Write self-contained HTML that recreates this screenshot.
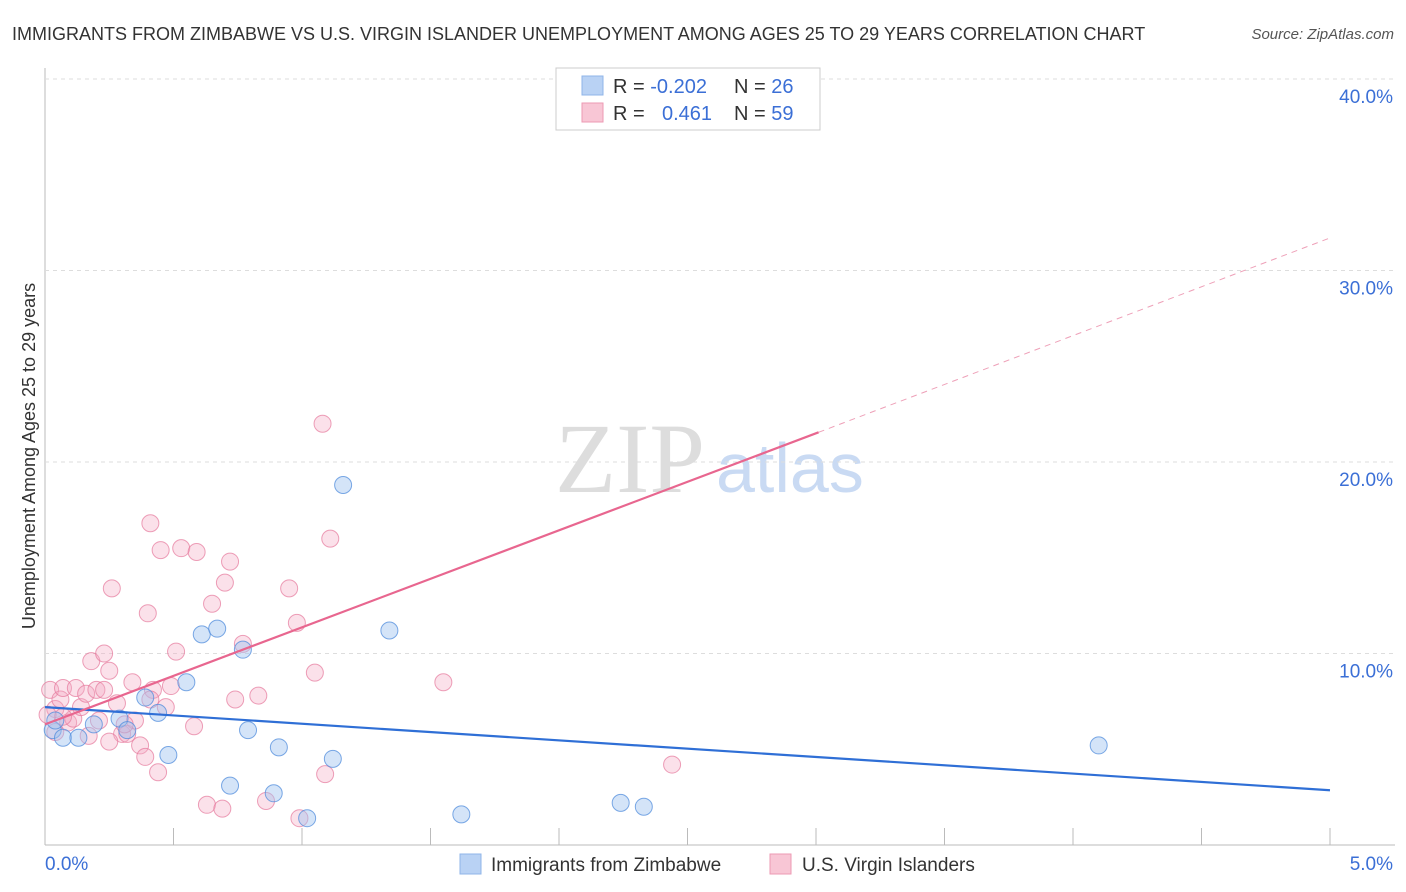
<!DOCTYPE html>
<html><head><meta charset="utf-8"><style>
body{margin:0;background:#fff;font-family:"Liberation Sans",sans-serif;}
svg{display:block}
</style></head><body>
<svg id="c" width="1406" height="892">
<text x="12" y="40" font-size="18" fill="#333">IMMIGRANTS FROM ZIMBABWE VS U.S. VIRGIN ISLANDER UNEMPLOYMENT AMONG AGES 25 TO 29 YEARS CORRELATION CHART</text>
<text x="1394" y="39" font-size="15" fill="#555" font-style="italic" text-anchor="end">Source: ZipAtlas.com</text>
<text x="35" y="456" font-size="18" fill="#333" text-anchor="middle" transform="rotate(-90 35 456)">Unemployment Among Ages 25 to 29 years</text>
<text x="555" y="492" font-size="100" fill="#ddd" font-family="Liberation Serif,serif">ZIP</text>
<text x="716" y="492" font-size="70" fill="#c9daf3">atlas</text>
<g id="grid"></g><g id="pts"></g><g id="lines"></g>
<g>
<rect x="556" y="68" width="264" height="62" fill="#fff" stroke="#ccc"/>
<rect x="582" y="76" width="21" height="19" fill="#b9d2f4" stroke="#8fb4e8"/>
<rect x="582" y="103" width="21" height="19" fill="#f8c6d5" stroke="#ec9ab3"/>
<text x="613" y="93" font-size="20" fill="#333">R = <tspan fill="#3b6fd6">-0.202</tspan></text>
<text x="734" y="93" font-size="20" fill="#333">N = <tspan fill="#3b6fd6">26</tspan></text>
<text x="613" y="120" font-size="20" fill="#333">R = <tspan fill="#3b6fd6" x="662">0.461</tspan></text>
<text x="734" y="120" font-size="20" fill="#333">N = <tspan fill="#3b6fd6">59</tspan></text>
</g>
<g>
<rect x="460" y="854" width="21" height="20" fill="#b9d2f4" stroke="#8fb4e8"/>
<text x="491" y="871" font-size="19" fill="#333">Immigrants from Zimbabwe</text>
<rect x="770" y="854" width="21" height="20" fill="#f8c6d5" stroke="#ec9ab3"/>
<text x="802" y="871" font-size="19" fill="#333">U.S. Virgin Islanders</text>
</g>
</svg>
<script>
const xTicks=[0,0.5,1,1.5,2,2.5,3,3.5,4,4.5,5];
const yTicks=[10,20,30,40];
const blueX=[0.03,0.07,0.13,0.19,0.29,0.32,0.39,0.44,0.48,0.55,0.61,0.67,0.72,0.77,0.79,0.89,0.91,1.02,1.12,1.16,1.34,1.62,2.24,2.33,4.10,0.04];
const blueY=[6.0,5.6,5.6,6.3,6.6,6.0,7.7,6.9,4.7,8.5,11.0,11.3,3.1,10.2,6.0,2.7,5.1,1.4,4.5,18.8,11.2,1.6,2.2,2.0,5.2,6.5];
const pinkX=[0.02,0.04,0.06,0.07,0.09,0.11,0.12,0.14,0.16,0.18,0.20,0.21,0.23,0.23,0.25,0.26,0.28,0.30,0.32,0.34,0.35,0.37,0.39,0.40,0.41,0.42,0.44,0.45,0.47,0.49,0.51,0.53,0.58,0.59,0.63,0.65,0.69,0.70,0.72,0.74,0.77,0.83,0.86,0.95,0.98,0.99,1.05,1.08,1.09,1.11,1.55,2.44,0.04,0.07,0.01,0.17,0.31,0.41,0.25,2.86];
const pinkY=[8.1,7.1,7.6,8.2,6.4,6.6,8.2,7.2,7.9,9.6,8.1,6.5,10.0,8.1,9.1,13.4,7.4,5.8,5.8,8.5,6.5,5.2,4.6,12.1,16.8,8.1,3.8,15.4,7.2,8.3,10.1,15.5,6.2,15.3,2.1,12.6,1.9,13.7,14.8,7.6,10.5,7.8,2.3,13.4,11.6,1.4,9.0,22.0,3.7,16.0,8.5,4.2,5.9,6.7,6.8,5.7,6.3,7.6,5.4,40.0];
const X=v=>45+v/5*1285, Y=v=>845-v*19.15;
const ns="http://www.w3.org/2000/svg";
function mk(t,a,p){const e=document.createElementNS(ns,t);for(const k in a)e.setAttribute(k,a[k]);p.appendChild(e);return e;}
const g=document.getElementById('grid');
let ax=mk('line',{x1:45,y1:68,x2:45,y2:845,stroke:'#bbb'},g);


let bx=mk('line',{x1:45,y1:845,x2:1395,y2:845,stroke:'#bbb'},g);


yTicks.forEach(v=>{
 let l=mk('line',{x1:45,y1:Y(v),x2:1395,y2:Y(v),stroke:'#ddd','stroke-dasharray':'4,4'},g);
 
 
 let t=mk('text',{x:1393,y:Y(v)+24,'font-size':19,fill:'#3b6fd6','text-anchor':'end'},g);t.textContent=v.toFixed(1)+'%';
 
 
});
xTicks.forEach(v=>{
 let l=mk('line',{x1:X(v),y1:828,x2:X(v),y2:845,stroke:'#bbb'},g);
 
 
});
[[0,'0.0%','start',45],[5,'5.0%','end',1393]].forEach(([v,s,a,px])=>{
 let t=mk('text',{x:px,y:870,'font-size':19,fill:'#3b6fd6','text-anchor':a},g);t.textContent=s;
 
 
});
const pg=document.getElementById('pts');
pinkX.forEach((v,i)=>{let c=mk('circle',{cx:X(v),cy:Y(pinkY[i]),r:8.5,fill:'rgba(244,170,195,0.35)',stroke:'rgba(230,120,155,0.7)','stroke-width':1},pg);
 
 });
blueX.forEach((v,i)=>{let c=mk('circle',{cx:X(v),cy:Y(blueY[i]),r:8.5,fill:'rgba(160,195,240,0.45)',stroke:'rgba(80,140,220,0.75)','stroke-width':1},pg);
 
 });
const lg=document.getElementById('lines');
let b=mk('line',{x1:X(0),y1:Y(7.2),x2:X(5),y2:Y(2.86),stroke:'#2f6fd6','stroke-width':2.2},lg);


let p=mk('line',{x1:X(0),y1:Y(6.3),x2:X(3.01),y2:Y(21.55),stroke:'#e8668f','stroke-width':2.2},lg);


let pd=mk('line',{x1:X(3.01),y1:Y(21.55),x2:X(5),y2:Y(31.7),stroke:'#eea0b8','stroke-width':1,'stroke-dasharray':'6,5'},lg);


</script>
</body></html>
